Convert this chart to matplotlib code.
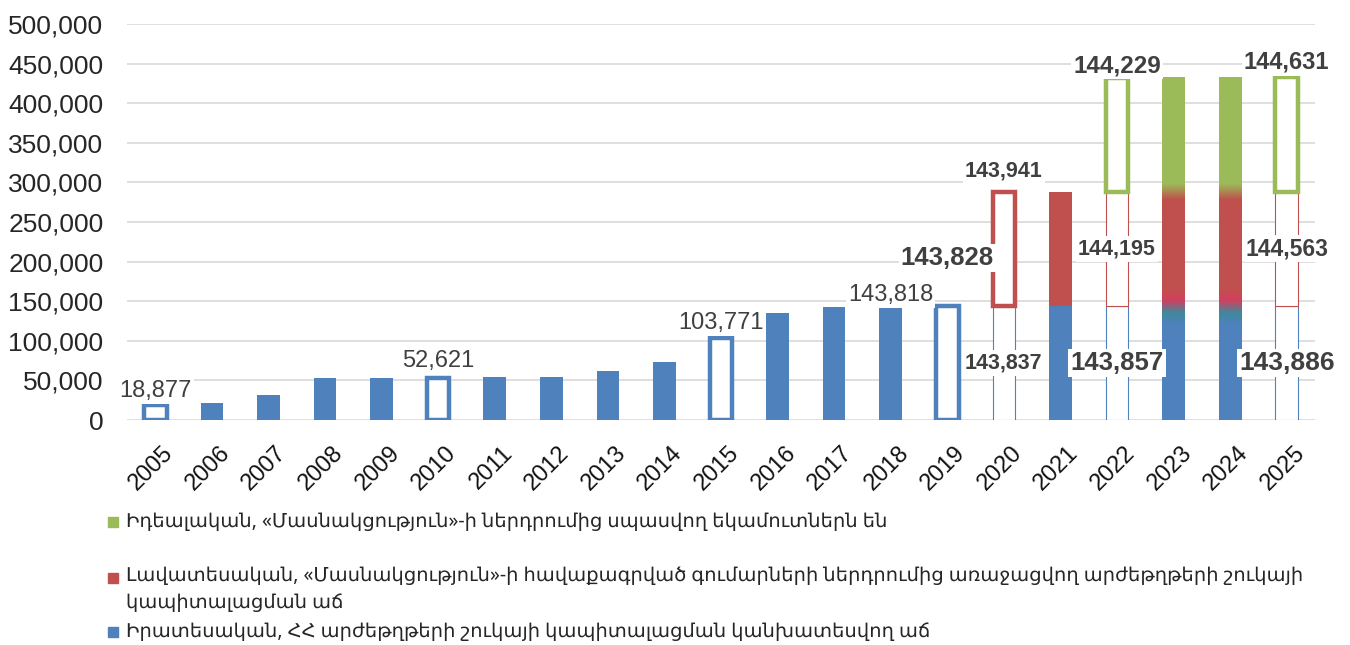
"""
Armenian securities market capitalisation scenarios, 2005-2025
"""
import numpy as np
from matplotlib import pyplot as plt
from matplotlib.ticker import FuncFormatter
from matplotlib.colors import LinearSegmentedColormap
from matplotlib.transforms import ScaledTranslation

years = [str(y) for y in range(2005, 2026)]

# realistic: expected capitalisation growth of the RA securities market
realistic = [18877, 21000, 31500, 53400, 53200, 52621, 54700, 54300, 62300, 73600,
             103771, 134700, 143300, 143818, 143828, 143837, 143847, 143857, 143866,
             143876, 143886]
# optimistic: growth from investing funds collected by "Masnakcutyun"
optimistic = [0] * 15 + [143941, 144068, 144195, 144318, 144441, 144563]
# ideal: expected income from "Masnakcutyun" investments
ideal = [0] * 17 + [144229, 144363, 144497, 144631]

legend_labels = [
    "Իդեալական, «Մասնակցություն»-ի ներդրումից սպասվող եկամուտներն են",
    "Լավատեսական, «Մասնակցություն»-ի հավաքագրված գումարների ներդրումից առաջացվող արժեթղթերի շուկայի\nկապիտալացման աճ",
    "Իրատեսական, ՀՀ արժեթղթերի շուկայի կապիտալացման կանխատեսվող աճ",
]

BLUE, RED, GREEN = '#4f81bd', '#c0504d', '#9bbb59'
TXT = '#404040'

# bar styles: 'fill', 'thick' (outlined) or 'thin' (thin outline)
style = {s: ['fill'] * len(years) for s in ('b', 'r', 'g')}
for y in ['2005', '2010', '2015', '2019']:
    style['b'][years.index(y)] = 'thick'
style['b'][years.index('2020')] = 'thin'
style['r'][years.index('2020')] = 'thick'
for y in ['2022', '2025']:
    i = years.index(y)
    style['b'][i] = 'thin'
    style['r'][i] = 'thin'
    style['g'][i] = 'thick'
blended = ['2023', '2024']  # drawn with soft colour transitions

plt.rcParams['font.family'] = ['Liberation Sans', 'DejaVu Sans']

fig = plt.figure(figsize=(13.5, 6.45), dpi=100)
ax = fig.add_axes([127 / 1350, 1 - 420 / 645, 1188 / 1350, 396 / 645])

x = np.arange(len(years))
w = 0.4
series = [('b', realistic, BLUE), ('r', optimistic, RED), ('g', ideal, GREEN)]
bottom = np.zeros(len(years))
for key, vals, col in series:
    vals = np.array(vals, dtype=float)
    for i in range(len(years)):
        if vals[i] == 0:
            continue
        st = style[key][i]
        if st == 'fill':
            ax.bar(x[i], vals[i], w, bottom=bottom[i], color=col, zorder=3)
        elif st == 'thick':
            ax.bar(x[i], vals[i], w, bottom=bottom[i], facecolor='white',
                   edgecolor=col, linewidth=3.2, zorder=3)
        else:
            ax.bar(x[i], vals[i], w, bottom=bottom[i], facecolor='white',
                   edgecolor=col, linewidth=0.8, zorder=3)
    bottom += vals

# gradient overlay for the blended stacks
for yr in blended:
    i = years.index(yr)
    b1 = realistic[i]
    b2 = b1 + optimistic[i]
    top = b2 + ideal[i]
    stops = [(0, BLUE), ((b1 - 24000) / top, BLUE), ((b1 - 9000) / top, '#3f899d'),
             ((b1 + 7000) / top, '#d1405e'), ((b1 + 22000) / top, RED),
             ((b2 - 10000) / top, RED), ((b2 + 10000) / top, GREEN), (1, GREEN)]
    cmap = LinearSegmentedColormap.from_list(f'grad{yr}', stops)
    ax.imshow(np.linspace(0, 1, 512).reshape(-1, 1), extent=(x[i] - w / 2, x[i] + w / 2, 0, top),
              origin='lower', cmap=cmap, aspect='auto', zorder=4, interpolation='bilinear')

# value labels: (year, series, place, offset px, size, bold)
data = {'b': realistic, 'r': optimistic, 'g': ideal}
below = {'b': [0] * len(years), 'r': realistic,
         'g': list(np.array(realistic) + np.array(optimistic))}
labels = [
    ('2005', 'b', 'top', 14, 17, False),
    ('2010', 'b', 'top', 17, 17, False),
    ('2015', 'b', 'top', 15, 17, False),
    ('2018', 'b', 'top', 11, 17, False),
    ('2019', 'b', 'top', 48, 18.5, True),
    ('2020', 'r', 'top', 21, 15.5, True),
    ('2020', 'b', 'mid', 0, 15.5, True),
    ('2022', 'b', 'mid', 0, 18.5, True),
    ('2022', 'r', 'mid', 0, 15.5, True),
    ('2022', 'g', 'top', 12, 17.5, True),
    ('2025', 'g', 'top', 15, 17, True),
    ('2025', 'r', 'mid', 0, 16.5, True),
    ('2025', 'b', 'mid', 0, 19, True),
]
for yr, key, place, dy, size, bold in labels:
    i = years.index(yr)
    v = data[key][i]
    base = below[key][i]
    yv = base + v if place == 'top' else base + v / 2
    ax.annotate(f"{v:,}", (x[i], yv), xytext=(0, dy * 0.72), textcoords='offset points',
                ha='center', va='center', fontsize=size, color=TXT,
                fontweight='bold' if bold else 'normal', zorder=6,
                bbox=dict(fc='white', ec='none', pad=1.5))

ax.set_xlim(-0.5, len(years) - 0.5)
ax.set_ylim(0, 500000)
ax.set_yticks(np.arange(0, 500001, 50000))
ax.yaxis.set_major_formatter(FuncFormatter(lambda v, p: f"{int(v):,}"))
ax.grid(axis='y', color='#d9d9d9', linewidth=1.2, zorder=0)
for s in ax.spines.values():
    s.set_visible(False)
ax.tick_params(axis='y', length=0, pad=17, labelsize=19, labelcolor='#262626')
ax.tick_params(axis='x', length=0, pad=16)
ax.set_xticks(x)
ax.set_xticklabels(years, rotation=45, ha='right', va='top', rotation_mode='anchor',
                   fontsize=17, color='#111111')
shift = ScaledTranslation(7 / 100, 0, fig.dpi_scale_trans)
for t in ax.get_xticklabels():
    t.set_transform(t.get_transform() + shift)

# legend, drawn by hand
leg_y = [522, 578, 632]
for lab, col, yy in zip(legend_labels, [GREEN, RED, BLUE], leg_y):
    fig.patches.append(plt.Rectangle((108 / 1350, 1 - (yy + 5) / 645), 10 / 1350, 10 / 645,
                                     transform=fig.transFigure, color=col))
    fig.text(126 / 1350, 1 - (yy - 12) / 645 if '\n' in lab else 1 - yy / 645, lab,
             ha='left', va='top' if '\n' in lab else 'center',
             fontsize=14, color='#262626', family=['Noto Sans', 'DejaVu Sans'],
             linespacing=1.5)

plt.savefig('out.png', dpi=100)
